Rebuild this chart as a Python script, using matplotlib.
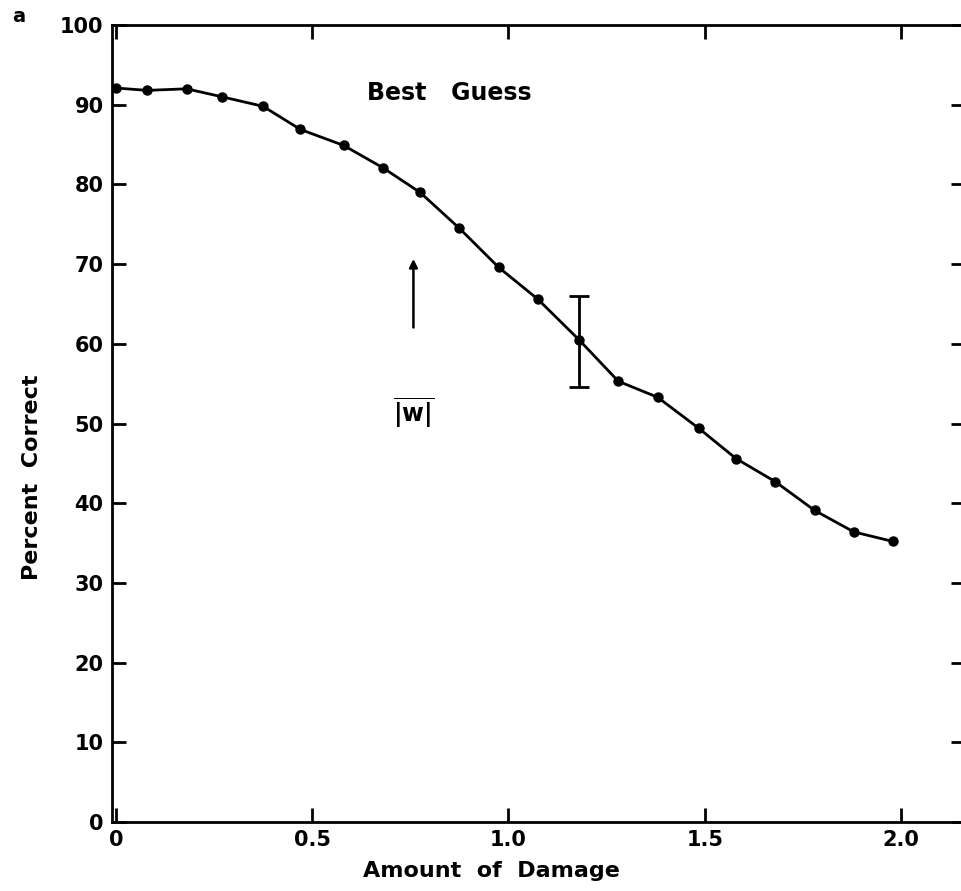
import numpy as np
import matplotlib
matplotlib.use("Agg")
import matplotlib.pyplot as plt

# data
damage = [0.0, 0.08, 0.18, 0.27, 0.375, 0.47, 0.58, 0.68, 0.775, 0.875, 0.975,
          1.075, 1.18, 1.28, 1.38, 1.485, 1.58, 1.68, 1.78, 1.88, 1.98]
correct = [92.1, 91.8, 92.0, 91.0, 89.8, 86.9, 84.9, 82.1, 79.0, 74.5, 69.6,
           65.6, 60.5, 55.3, 53.3, 49.4, 45.6, 42.7, 39.1, 36.4, 35.2]
err_x = 1.18
err_y = 60.5
err_lo = 54.6
err_hi = 66.0
xticks = [0, 0.5, 1.0, 1.5, 2.0]
xticklabels = ["0", "0.5", "1.0", "1.5", "2.0"]
yticks = list(range(0, 101, 10))

plt.rcParams['font.family'] = ['DejaVu Sans']
plt.rcParams['font.weight'] = 'bold'
plt.rcParams['mathtext.fontset'] = 'dejavusans'

fig = plt.figure(figsize=(9.61, 8.91), dpi=100)
ax = fig.add_axes([0.1165, 0.0774, 0.8876, 0.8945])

ax.plot(damage, correct, color='black', lw=2, marker='o', ms=6.5)
ax.errorbar([err_x], [err_y], yerr=[[err_y - err_lo], [err_hi - err_y]],
            fmt='none', ecolor='black', elinewidth=2, capsize=7, capthick=2)

# arrow marking mean |w|
ax.annotate('', xy=(0.758, 71.0), xytext=(0.758, 61.7),
            arrowprops=dict(arrowstyle='-|>', color='black', lw=1.8,
                            mutation_scale=12))
ax.text(0.758, 51.3, r'$\overline{\mathbf{|w|}}$', ha='center', va='center',
        fontsize=17)
ax.text(0.85, 91.5, 'Best   Guess', ha='center', va='center', fontsize=17,
        fontweight='bold')

ax.set_xlim(-0.01, 2.163)
ax.set_ylim(0, 100)
ax.set_xticks(xticks)
ax.set_xticklabels(xticklabels)
ax.set_yticks(yticks)
ax.tick_params(direction='in', length=10, width=2, top=True, right=True,
               labelsize=15, pad=6)
for s in ax.spines.values():
    s.set_linewidth(2)

ax.set_xlabel('Amount  of  Damage', fontsize=16, fontweight='bold')
ax.set_ylabel('Percent  Correct', fontsize=16, fontweight='bold')
ax.xaxis.set_label_coords(0.445, -0.049)
ax.yaxis.set_label_coords(-0.082, 0.432)

fig.text(0.019, 0.981, 'a', fontsize=14, fontweight='bold', ha='center',
         va='center')

fig.savefig('out.png', dpi=100)
